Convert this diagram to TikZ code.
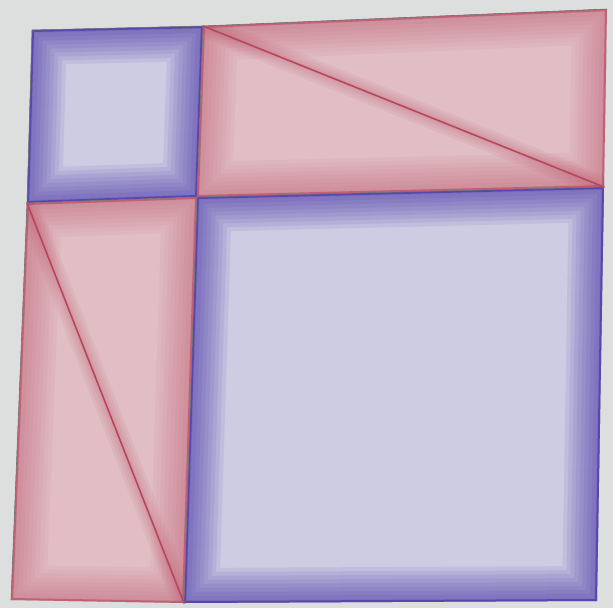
\documentclass[tikz,border=0pt]{standalone}
\begin{document}
\definecolor{paper}{RGB}{221,223,223}
\definecolor{pinkfill}{RGB}{224,190,196}
\definecolor{rededge}{RGB}{185,70,92}
\definecolor{bluefill}{RGB}{206,204,226}
\definecolor{blueedge}{RGB}{68,45,165}
\newcommand\myregion[4]{%
  \begin{scope}
    \clip #1;
    \fill[#2] #1;
    \foreach \w in {70,62,...,6} {\draw[#3, line width=\w pt, opacity=#4, line join=miter] #1;}
    \draw[#3, line width=4pt, opacity=0.6] #1;
  \end{scope}}
\begin{tikzpicture}[x=1pt,y=-1pt,
  pencil/.style={draw=black!55, line width=0.6pt, line join=round},
  diag/.style={draw=rededge, line width=1.6pt, line cap=round},
  diagglow/.style={draw=rededge, line cap=round}]
\fill[paper] (0,0) rectangle (613,608);
\useasboundingbox (0,0) rectangle (613,608);
\coordinate (A) at (32,30);
\coordinate (B) at (203,26);
\coordinate (C) at (197,197);
\coordinate (D) at (27,203);
\coordinate (E) at (607,9);
\coordinate (F) at (604,187);
\coordinate (G) at (597,601);
\coordinate (H) at (184,603);
\coordinate (I) at (11,600);
% regions
\myregion{(A)--(B)--(C)--(D)--cycle}{bluefill}{blueedge}{0.09}
\myregion{(B)--(E)--(F)--(C)--cycle}{pinkfill}{rededge}{0.05}
\myregion{(D)--(C)--(H)--(I)--cycle}{pinkfill}{rededge}{0.05}
\myregion{(C)--(F)--(G)--(H)--cycle}{bluefill}{blueedge}{0.09}
% diagonals
\begin{scope}
  \clip (B)--(E)--(F)--(C)--cycle;
  \foreach \w in {22,16,10,5} {\draw[diagglow, line width=\w pt, opacity=0.08] (B)--(F);}
\end{scope}
\begin{scope}
  \clip (D)--(C)--(H)--(I)--cycle;
  \foreach \w in {22,16,10,5} {\draw[diagglow, line width=\w pt, opacity=0.08] (D)--(H);}
\end{scope}
\draw[diag] (B)--(F);
\draw[diag] (D)--(H);
% pencil outlines
\draw[pencil] (A)--(B)--(E);
\draw[pencil] (B)--(C)--(H);
\draw[pencil] (D)--(C)--(F);
\draw[pencil] (A)--(D)--(I);
\end{tikzpicture}
\end{document}
